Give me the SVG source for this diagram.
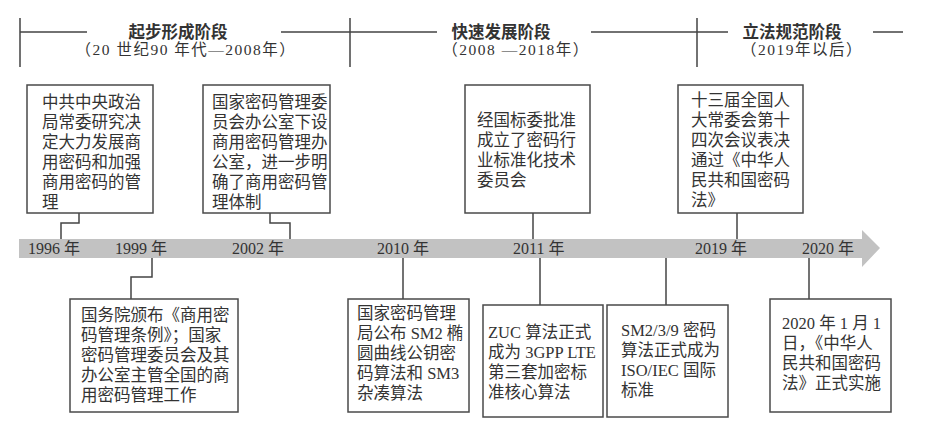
<svg xmlns="http://www.w3.org/2000/svg" width="930" height="425" viewBox="0 0 930 425">
<style>
.bg{fill:#ffffff}
.ln{stroke:#444;stroke-width:1.5;fill:none}
.box{fill:#fff;stroke:#4a4a4a;stroke-width:1.5}
.t{font-family:"Liberation Serif","Noto Sans CJK SC",serif;font-size:16.5px;fill:#333}
.yr{font-family:"Liberation Serif","Noto Sans CJK SC",serif;font-size:16px;fill:#333}
.h{font-family:"Liberation Serif","Noto Sans CJK SC",serif;font-size:16.5px;fill:#333;font-weight:bold;text-anchor:middle}
.hs{font-family:"Liberation Serif","Noto Sans CJK SC",serif;font-size:15.5px;fill:#333;text-anchor:middle;letter-spacing:1.5px}
</style>
<rect class="bg" x="0" y="0" width="930" height="425"/>
<g id="header">
<path class="ln" d="M20 18V67M350 18V67M697 18V67M20 32H87M281 32H437M591 32H728M873 32H903"/>
<text class="h" x="178" y="38">起步形成阶段</text>
<text class="hs" x="186" y="55">（20 世纪90 年代—2008年）</text>
<text class="h" x="501" y="38">快速发展阶段</text>
<text class="hs" x="516" y="55">（2008 —2018年）</text>
<text class="h" x="792" y="38">立法规范阶段</text>
<text class="hs" x="802" y="55">（2019年以后）</text>
</g>
<g id="timeline">
<polygon points="19,239 862,239 862,230 880,248 862,267 862,258 19,258" fill="#c2c2c2"/>
<text class="yr" x="28" y="254">1996 年</text>
<text class="yr" x="115" y="254">1999 年</text>
<text class="yr" x="232" y="254">2002 年</text>
<text class="yr" x="377" y="254">2010 年</text>
<text class="yr" x="513" y="254">2011 年</text>
<text class="yr" x="695" y="254">2019 年</text>
<text class="yr" x="802" y="254">2020 年</text>
</g>
<g id="connectors">
<path class="ln" d="M79 213V223H61V239"/>
<path class="ln" d="M270 213V223H290V239"/>
<path class="ln" d="M533 213V239"/>
<path class="ln" d="M737 213V239"/>
<path class="ln" d="M152 258V277H131V299"/>
<path class="ln" d="M403 258V299"/>
<path class="ln" d="M540 258V305"/>
<path class="ln" d="M666 258V305"/>
<path class="ln" d="M809 258V299"/>
</g>
<g id="n1996">
<rect class="box" x="27" y="85" width="126" height="128"/>
<text class="t" x="42" y="108">中共中央政治</text>
<text class="t" x="42" y="128">局常委研究决</text>
<text class="t" x="42" y="148">定大力发展商</text>
<text class="t" x="42" y="168">用密码和加强</text>
<text class="t" x="42" y="188">商用密码的管</text>
<text class="t" x="42" y="208">理</text>
</g>
<g id="n2002">
<rect class="box" x="203" y="85" width="127" height="128"/>
<text class="t" x="212" y="108">国家密码管理委</text>
<text class="t" x="212" y="128">员会办公室下设</text>
<text class="t" x="212" y="148">商用密码管理办</text>
<text class="t" x="212" y="168">公室，进一步明</text>
<text class="t" x="212" y="188">确了商用密码管</text>
<text class="t" x="212" y="208">理体制</text>
</g>
<g id="n2011top">
<rect class="box" x="465" y="85" width="125" height="128"/>
<text class="t" x="477" y="126">经国标委批准</text>
<text class="t" x="477" y="146">成立了密码行</text>
<text class="t" x="477" y="166">业标准化技术</text>
<text class="t" x="477" y="186">委员会</text>
</g>
<g id="n2019">
<rect class="box" x="678" y="85" width="125" height="128"/>
<text class="t" x="691" y="106">十三届全国人</text>
<text class="t" x="691" y="126">大常委会第十</text>
<text class="t" x="691" y="146">四次会议表决</text>
<text class="t" x="691" y="166">通过《中华人</text>
<text class="t" x="691" y="186">民共和国密码</text>
<text class="t" x="691" y="206">法》</text>
</g>
<g id="n1999">
<rect class="box" x="70" y="299" width="168" height="113"/>
<text class="t" x="81" y="321">国务院颁布《商用密</text>
<text class="t" x="81" y="341">码管理条例》；国家</text>
<text class="t" x="81" y="361">密码管理委员会及其</text>
<text class="t" x="81" y="381">办公室主管全国的商</text>
<text class="t" x="81" y="401">用密码管理工作</text>
</g>
<g id="n2010">
<rect class="box" x="348" y="299" width="121" height="113"/>
<text class="t" x="357" y="319">国家密码管理</text>
<text class="t" x="357" y="339">局公布 SM2 椭</text>
<text class="t" x="357" y="359">圆曲线公钥密</text>
<text class="t" x="357" y="379">码算法和 SM3</text>
<text class="t" x="357" y="399">杂凑算法</text>
</g>
<g id="n2011bottom">
<rect class="box" x="483" y="305" width="120" height="112"/>
<text class="t" x="488" y="338">ZUC 算法正式</text>
<text class="t" x="488" y="358">成为 3GPP LTE</text>
<text class="t" x="488" y="378">第三套加密标</text>
<text class="t" x="488" y="398">准核心算法</text>
</g>
<g id="nSM">
<rect class="box" x="607" y="305" width="121" height="112"/>
<text class="t" x="621" y="336">SM2/3/9 密码</text>
<text class="t" x="621" y="356">算法正式成为</text>
<text class="t" x="621" y="376">ISO/IEC 国际</text>
<text class="t" x="621" y="396">标准</text>
</g>
<g id="n2020">
<rect class="box" x="770" y="299" width="121" height="113"/>
<text class="t" x="782" y="329">2020 年 1 月 1</text>
<text class="t" x="782" y="349">日，《中华人</text>
<text class="t" x="782" y="369">民共和国密码</text>
<text class="t" x="782" y="389">法》正式实施</text>
</g>
</svg>
